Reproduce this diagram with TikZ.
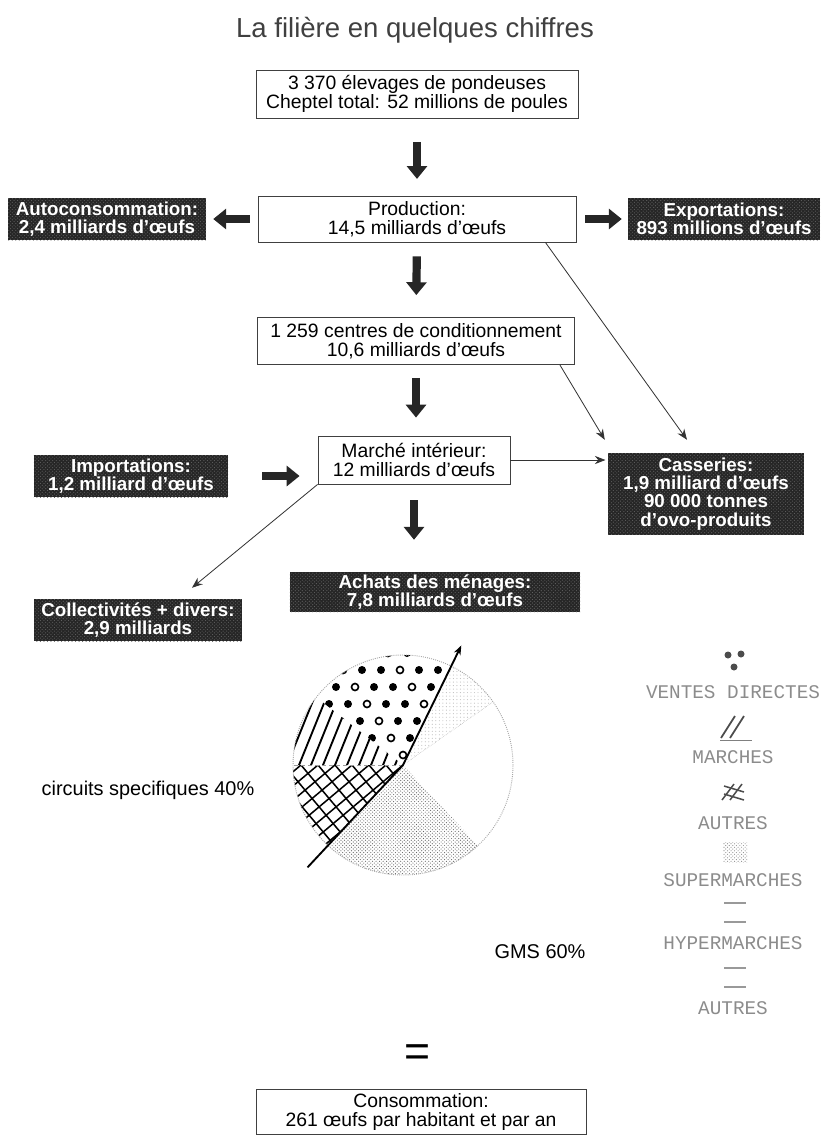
\documentclass[tikz,border=0pt]{standalone}
\usepackage{fontspec}
\setmainfont{Liberation Sans}
\setmonofont{Liberation Mono}
\usetikzlibrary{arrows.meta,patterns}

\begin{document}
\begin{tikzpicture}[x=0.03cm, y=-0.03cm,
  boite/.style={draw=black!75, line width=0.7pt, align=center, inner sep=0pt, font=\fontsize{16.5}{16.5}\selectfont},
  sombre/.style={fill=black!85, postaction={pattern=crosshatch dots, pattern color=black!62}, text=white, align=center, inner sep=0pt, font=\fontsize{16}{15.5}\selectfont\bfseries},
  fleche/.style={line width=7pt, black!85, -{Triangle[length=11pt, width=17pt]}},
  lien/.style={line width=0.7pt, black!80, -{Stealth[length=9pt, width=7pt]}},
  legende/.style={text=black!45, font=\ttfamily\fontsize{16.5}{16.5}\selectfont},
  etiquette/.style={font=\fontsize{17}{17}\selectfont}]
  \useasboundingbox (0,0) rectangle (824,1139);

  % titre et chaine principale
  \node[font=\fontsize{23.5}{23.5}\selectfont, text=black!75] (titre) at (415,30) {La filière en quelques chiffres};
  \node[boite, minimum width=9.66cm, minimum height=1.44cm] (elev) at (417,94) {3 370 élevages de pondeuses\\Cheptel total: 52 millions de poules};
  \node[boite, minimum width=9.54cm, minimum height=1.38cm] (prod) at (417,219) {Production:\\14,5 milliards d'œufs};
  \node[boite, minimum width=9.51cm, minimum height=1.41cm] (cond) at (416,341) {1 259 centres de conditionnement\\10,6 milliards d'œufs};
  \node[boite, minimum width=5.76cm, minimum height=1.44cm] (marche) at (414,460) {Marché intérieur:\\12 milliards d'œufs};
  \node[boite, minimum width=9.9cm, minimum height=1.35cm] (conso) at (421,1112) {Consommation:\\261 œufs par habitant et par an};
  \node[font=\fontsize{38}{38}\selectfont] (egal) at (417,1056) {=};

  % boites sombres
  \node[sombre, minimum width=5.94cm, minimum height=1.26cm] (autoc) at (107,219) {Autoconsommation:\\2,4 milliards d'œufs};
  \node[sombre, minimum width=5.76cm, minimum height=1.26cm] (export) at (724,219) {Exportations:\\893 millions d'œufs};
  \node[sombre, minimum width=5.82cm, minimum height=1.26cm] (import) at (131,476) {Importations:\\1,2 milliard d'œufs};
  \node[sombre, minimum width=5.88cm, minimum height=2.46cm] (casse) at (706,494) {Casseries:\\1,9 milliard d'œufs\\90 000 tonnes\\d'ovo-produits};
  \node[sombre, minimum width=8.7cm, minimum height=1.2cm] (achats) at (435,592) {Achats des ménages:\\7,8 milliards d'œufs};
  \node[sombre, minimum width=6.21cm, minimum height=1.26cm] (collect) at (138,620) {Collectivités + divers:\\2,9 milliards};

  % grosses fleches
  \draw[fleche, shorten <=0.7cm, shorten >=0.5cm] (elev.south) -- (prod.north);
  \draw[fleche, shorten <=0.42cm, shorten >=0.66cm] (prod.south) -- (cond.north);
  \draw[fleche, shorten <=0.39cm, shorten >=0.54cm] (cond.south) -- (cond.south |- marche.north);
  \draw[fleche, shorten <=0.48cm, shorten >=0.96cm] (marche.south) -- (marche.south |- achats.north);
  \draw[fleche, shorten <=0.24cm, shorten >=0.21cm] (prod.west) -- (autoc.east);
  \draw[fleche, shorten <=0.27cm, shorten >=0.18cm] (prod.east) -- (export.west);
  \draw[fleche, shorten <=1.02cm, shorten >=0.54cm] (import.east) -- (import.east -| marche.west);

  % fleches fines
  \draw[lien] ([xshift=-0.93cm]prod.south east) -- ([xshift=-0.57cm, yshift=0.39cm]casse.north);
  \draw[lien] ([xshift=-0.45cm]cond.south east) -- ([xshift=-0.09cm, yshift=0.39cm]casse.north west);
  \draw[lien, shorten >=2pt] (marche.east) -- (marche.east -| casse.west);
  \draw[lien] (marche.south west) -- ([xshift=1.62cm, yshift=0.33cm]collect.north);

  % camembert
  \coordinate (centre) at (403,765);
  \begin{scope}[shift={(centre)}, y=0.03cm]
    \begin{scope}
      \clip (0,0) -- (64:110) arc (64:142:110) -- cycle;
      \foreach \i in {-8,...,4}{%
        \foreach \j in {0,...,6}{%
          \pgfmathtruncatemacro\m{mod(\i+\j+30,3)}
          \ifnum\m=0
            \draw[line width=1.4pt] (\i*19+\j*7, \j*17+10) circle (3.5);
          \else
            \fill (\i*19+\j*7, \j*17+10) circle (4);
          \fi
        }
      }
    \end{scope}
    \begin{scope}
      \clip (0,0) -- (142:110) arc (142:180:110) -- cycle;
      \foreach \k in {-13,...,1}
        \draw[line width=1.6pt] (\k*12, -10) -- ++(68:150);
    \end{scope}
    \begin{scope}
      \clip (0,0) -- (180:110) arc (180:227:110) -- cycle;
      \foreach \k in {-12,...,6}{%
        \draw[line width=1.3pt] (\k*17, 0) ++(40:-150) -- ++(40:300);
        \draw[line width=1.3pt] (\k*17, 0) ++(-50:-150) -- ++(-50:300);
      }
    \end{scope}
    \fill[pattern=crosshatch dots, pattern color=black!60] (0,0) -- (227:110) arc (227:313:110) -- cycle;
    \fill[pattern=dots, pattern color=black!25] (0,0) -- (35:110) arc (35:64:110) -- cycle;
    \draw[black!35, densely dotted, line width=0.8pt] (0,0) circle (110);
    \draw[black!40, dashed] (0,0) -- (180:110);
    \draw[black!35, densely dotted] (0,0) -- (35:110);
    \draw[line width=1.6pt, -{Stealth[length=8pt, width=6pt]}] (227:140) -- (0,0) -- (64:133);
  \end{scope}
  \node[etiquette] (circuits) at (148,790) {circuits specifiques 40\%};
  \node[etiquette] (gms) at (540,952) {GMS 60\%};

  % legende
  \foreach \t/\yy [count=\i] in {VENTES DIRECTES/692, MARCHES/757, AUTRES/823, SUPERMARCHES/880, HYPERMARCHES/943, AUTRES/1008}
    \node[legende] (leg-\i) at (733,\yy) {\t};
  \foreach \a/\b in {728/655, 741/654, 734/667}
    \fill[black!70] (\a,\b) circle (3.5);
  \foreach \d in {0,9}
    \draw[black!70, line width=1.5pt] (721+\d,738) -- ++(14,-22);
  \draw[black!50] (720,740) -- (752,740);
  \foreach \d in {0,8}{%
    \draw[black!70, line width=1.3pt] (722+\d,800) -- ++(12,-16);
    \draw[black!70, line width=1.3pt] (724,786+\d) -- ++(20,6);
  }
  \fill[pattern=crosshatch dots, pattern color=black!45] (723,842) rectangle (747,862);
  \foreach \yy in {903,922,968,987}
    \draw[black!40, line width=1pt] (724,\yy) -- (746,\yy);
\end{tikzpicture}
\end{document}
